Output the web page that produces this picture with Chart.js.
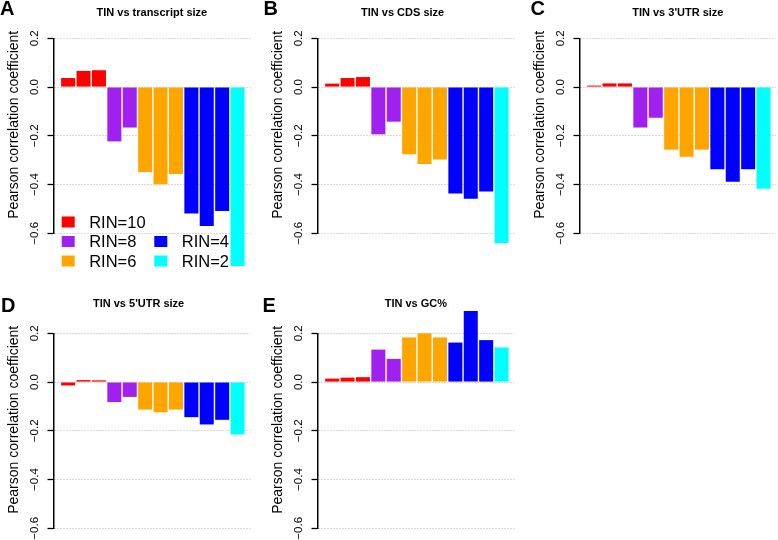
<!DOCTYPE html>
<html>
<head>
<meta charset="utf-8">
<script src="https://cdn.jsdelivr.net/npm/chart.js@4.4.1/dist/chart.umd.min.js"></script>
<style>
  html, body { margin: 0; padding: 0; background: #fff; overflow: hidden; }
  #wrap { position: relative; width: 778px; height: 540px; overflow: hidden; }
  .panel { position: absolute; width: 287px; height: 270px; }
  .tag { position: absolute; font: bold 20px "Liberation Sans", Arial, sans-serif; line-height: 20px; color: #000; }
</style>
</head>
<body>
<div id="wrap">
  <div class="panel" style="left:0;top:0"><canvas id="cA" width="287" height="270"></canvas></div>
  <div class="panel" style="left:264px;top:0"><canvas id="cB" width="287" height="270"></canvas></div>
  <div class="panel" style="left:526px;top:0"><canvas id="cC" width="287" height="270"></canvas></div>
  <div class="panel" style="left:0;top:295px"><canvas id="cD" width="287" height="270"></canvas></div>
  <div class="panel" style="left:264px;top:295px"><canvas id="cE" width="287" height="270"></canvas></div>
  <div class="tag" style="left:0;top:-2px">A</div>
  <div class="tag" style="left:263.5px;top:-2px">B</div>
  <div class="tag" style="left:530.5px;top:-2px">C</div>
  <div class="tag" style="left:1px;top:295px">D</div>
  <div class="tag" style="left:262.5px;top:295px">E</div>
</div>
<script>
// sample groups (RIN levels) and their colours
const groupNames = ['RIN=10', 'RIN=8', 'RIN=6', 'RIN=4', 'RIN=2'];
const groupColors = ['#FF0000', '#A020F0', '#FFA500', '#0000FF', '#00FFFF'];
const sampleGroup = [0, 0, 0, 1, 1, 2, 2, 2, 3, 3, 3, 4];
const yTickValues = [-0.6, -0.4, -0.2, 0, 0.2];

// Pearson correlation of TIN with each feature, one value per sample
const transcriptSize = [0.037, 0.066, 0.069, -0.223, -0.166, -0.348, -0.399, -0.357, -0.519, -0.570, -0.509, -0.734];
const cdsSize = [0.014, 0.037, 0.041, -0.194, -0.142, -0.276, -0.316, -0.297, -0.437, -0.458, -0.428, -0.640];
const utr3Size = [0.006, 0.015, 0.015, -0.166, -0.126, -0.257, -0.286, -0.257, -0.337, -0.388, -0.337, -0.417];
const utr5Size = [-0.014, 0.008, 0.007, -0.082, -0.061, -0.113, -0.124, -0.113, -0.144, -0.174, -0.155, -0.215];
const gcContent = [0.014, 0.018, 0.020, 0.133, 0.095, 0.183, 0.200, 0.183, 0.162, 0.291, 0.172, 0.142];

// titleFull: centre the title over the canvas (minus padLeft) instead of over the plot
const panels = [
  { id: 'cA', title: 'TIN vs transcript size', values: transcriptSize, row: 0, padLeft: 0, titleFull: false, legend: true },
  { id: 'cB', title: 'TIN vs CDS size', values: cdsSize, row: 0, padLeft: 27, titleFull: true },
  { id: 'cC', title: "TIN vs 3'UTR size", values: utr3Size, row: 0, padLeft: 0, titleFull: false },
  { id: 'cD', title: "TIN vs 5'UTR size", values: utr5Size, row: 1, padLeft: 27, titleFull: true },
  { id: 'cE', title: 'TIN vs GC%', values: gcContent, row: 1, padLeft: 0, titleFull: false }
];

const FONT = '"Liberation Sans", Arial, Helvetica, sans-serif';
const AXIS_X = 53.5;
Chart.defaults.font.family = FONT;
Chart.defaults.color = '#000';

const yTitle = {
  id: 'yTitle',
  afterDraw(chart, args, opts) {
    const { ctx, chartArea } = chart;
    ctx.save();
    ctx.font = '14px ' + FONT;
    ctx.fillStyle = '#000';
    ctx.textAlign = 'center';
    ctx.textBaseline = 'middle';
    ctx.translate(13.8, chartArea.top + 86.5);
    ctx.rotate(-Math.PI / 2);
    ctx.fillText(opts.text, 0, 0);
    ctx.restore();
  }
};

// two-column legend in the bottom-left corner of panel A
const rinLegend = {
  id: 'rinLegend',
  afterDatasetsDraw(chart, args, opts) {
    if (!opts.display) return;
    const { ctx, chartArea } = chart;
    const slots = [[0, 0], [0, 1], [0, 2], [1, 1], [1, 2]];
    ctx.save();
    ctx.font = '16.5px ' + FONT;
    ctx.textBaseline = 'middle';
    ctx.textAlign = 'left';
    chart.data.datasets.forEach((ds, g) => {
      const [col, row] = slots[g];
      const x = chartArea.left + 8.2 + col * 92.6;
      const y = chartArea.bottom - 11.3 + row * 19.5;
      ctx.fillStyle = ds.backgroundColor;
      ctx.fillRect(x, y - 5.5, 13, 11);
      ctx.fillStyle = '#000';
      ctx.fillText(ds.label, x + 27.5, y + 1);
    });
    ctx.restore();
  }
};

const fmt = v => (Math.abs(v) < 1e-9 ? '0.0' : v.toFixed(1).replace('-', '\u2212'));

panels.forEach(p => {
  const datasets = groupNames.map((name, g) => ({
    label: name,
    backgroundColor: groupColors[g],
    borderWidth: 0,
    clip: false,
    data: p.values.map((v, i) => ({ x: i, y: v })).filter(pt => sampleGroup[pt.x] === g)
  }));

  new Chart(document.getElementById(p.id), {
    type: 'bar',
    data: { datasets },
    plugins: [yTitle, rinLegend],
    options: {
      responsive: false,
      animation: false,
      devicePixelRatio: 1,
      layout: { padding: { left: p.padLeft, right: 36.8, top: 0, bottom: 36.7 } },
      datasets: { bar: { grouped: false, categoryPercentage: 1, barPercentage: 0.91 } },
      plugins: {
        legend: { display: false },
        tooltip: { enabled: false },
        title: {
          display: true,
          fullSize: p.titleFull,
          text: p.title,
          font: { size: 11, weight: 'bold' },
          color: '#000',
          padding: p.row === 0 ? { top: 5.9, bottom: 19.2 } : { top: 1.9, bottom: 23.2 }
        },
        yTitle: { text: 'Pearson correlation coefficient' },
        rinLegend: { display: !!p.legend }
      },
      scales: {
        x: {
          type: 'linear',
          display: false,
          offset: false,
          min: -0.95,
          max: 11.82,
          ticks: { stepSize: 1 },
          afterBuildTicks: s => { s.ticks = s.ticks.filter(t => Number.isInteger(t.value)); }
        },
        y: {
          min: -0.6,
          max: 0.2,
          afterBuildTicks: s => { s.ticks = yTickValues.map(v => ({ value: v })); },
          afterFit: s => { s.width = AXIS_X - p.padLeft; },
          ticks: {
            callback: fmt,
            font: { size: 11.5 },
            color: '#000',
            minRotation: 90,
            maxRotation: 90,
            crossAlign: 'center',
            padding: 1.5
          },
          grid: {
            color: '#a8a8a8',
            lineWidth: 0.9,
            tickLength: 6,
            tickColor: '#000',
            tickWidth: 1.3,
            tickBorderDash: []
          },
          border: { display: true, color: '#000', width: 1.5, dash: [1, 2] }
        }
      }
    }
  });
});
</script>
</body>
</html>
